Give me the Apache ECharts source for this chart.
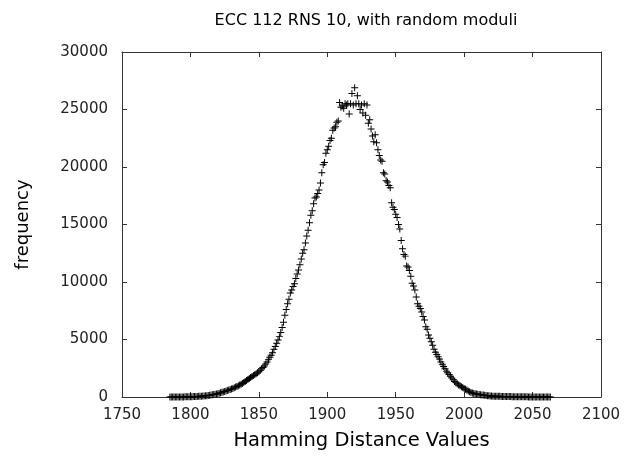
<!DOCTYPE html>
<html><head><meta charset="utf-8">
<script src="https://cdn.jsdelivr.net/npm/echarts@6/dist/echarts.min.js"></script>
<style>html,body{margin:0;padding:0;background:#fff}#c{width:634px;height:456px}</style>
</head><body><div id="c"></div>
<script>
var titleText = 'ECC 112 RNS 10, with random moduli';
var xName = 'Hamming Distance Values';
var yName = 'frequency';
var xTicks = [1750, 1800, 1850, 1900, 1950, 2000, 2050, 2100];
var yTicks = [0, 5000, 10000, 15000, 20000, 25000, 30000];

var hamming = [
1785,1786,1787,1788,1789,1790,1791,1792,1793,1794,
1795,1796,1797,1798,1799,1800,1801,1802,1803,1804,
1805,1806,1807,1808,1809,1810,1811,1812,1813,1814,
1815,1816,1817,1818,1819,1820,1821,1822,1823,1824,
1825,1826,1827,1828,1829,1830,1831,1832,1833,1834,
1835,1836,1837,1838,1839,1840,1841,1842,1843,1844,
1845,1846,1847,1848,1849,1850,1851,1852,1853,1854,
1855,1856,1857,1858,1859,1860,1861,1862,1863,1864,
1865,1866,1867,1868,1869,1870,1871,1872,1873,1874,
1875,1876,1877,1878,1879,1880,1881,1882,1883,1884,
1885,1886,1887,1888,1889,1890,1891,1892,1893,1894,
1895,1896,1897,1898,1899,1900,1901,1902,1903,1904,
1905,1906,1907,1908,1909,1910,1911,1912,1913,1914,
1915,1916,1917,1918,1919,1920,1921,1922,1923,1924,
1925,1926,1927,1928,1929,1930,1931,1932,1933,1934,
1935,1936,1937,1938,1939,1940,1941,1942,1943,1944,
1945,1946,1947,1948,1949,1950,1951,1952,1953,1954,
1955,1956,1957,1958,1959,1960,1961,1962,1963,1964,
1965,1966,1967,1968,1969,1970,1971,1972,1973,1974,
1975,1976,1977,1978,1979,1980,1981,1982,1983,1984,
1985,1986,1987,1988,1989,1990,1991,1992,1993,1994,
1995,1996,1997,1998,1999,2000,2001,2002,2003,2004,
2005,2006,2007,2008,2009,2010,2011,2012,2013,2014,
2015,2016,2017,2018,2019,2020,2021,2022,2023,2024,
2025,2026,2027,2028,2029,2030,2031,2032,2033,2034,
2035,2036,2037,2038,2039,2040,2041,2042,2043,2044,
2045,2046,2047,2048,2049,2050,2051,2052,2053,2054,
2055,2056,2057,2058,2059,2060,2061,2062,2063
];
var frequency = [
0,1,1,2,2,3,4,5,7,9,
10,12,14,17,20,24,28,33,38,44,
50,57,65,73,81,90,102,115,130,148,
170,190,212,235,260,288,325,370,405,445,
480,520,565,610,655,700,750,800,860,920,
980,1040,1110,1180,1260,1350,1430,1520,1610,1700,
1780,1860,1940,2020,2110,2200,2330,2450,2570,2700,
2870,3050,3250,3450,3640,3850,4150,4400,4680,4950,
5250,5600,6050,6500,7100,7600,8100,8500,9050,9300,
9600,9850,10300,10700,11050,11500,12000,12500,12800,13400,
14000,14500,15150,15800,16200,16800,17300,17400,17700,18000,
18600,19500,20200,20400,21200,21500,21800,22300,22500,23200,
23400,23500,23900,24000,25600,25200,25300,25100,25500,25400,
25500,24600,25500,26400,25400,26900,25500,26200,25500,25000,
25400,24700,25500,24500,25400,23800,24100,23300,22700,22200,
22800,22100,21500,21000,20600,20500,19500,19400,18800,18700,
18400,18200,16900,16500,16300,15900,15600,15000,14600,13600,
12900,12400,12250,11400,11300,11000,10500,9900,9650,9300,
8700,8100,7900,7700,7400,7000,6700,6100,5900,5400,
5100,4800,4500,4150,3900,3700,3500,3300,3050,2850,
2650,2450,2250,2100,1950,1800,1650,1500,1350,1250,
1150,1050,970,900,820,750,680,600,520,450,
400,350,310,280,255,240,220,200,180,165,
145,130,110,100,90,80,75,70,65,62,
60,56,52,49,47,45,42,39,36,33,
30,28,26,24,22,20,18,16,14,13,
12,11,10,9,8,8,7,6,5,5,
5,4,4,3,3,2,2,2,1
];

var points = hamming.map(function (h, i) { return [h, frequency[i]]; });
var FONT = 'DejaVu Sans';
var frameColor = '#333';
var plusPath = 'path://M4.3,0 H5.7 V4.3 H10 V5.7 H5.7 V10 H4.3 V5.7 H0 V4.3 H4.3 Z';

var chart = echarts.init(document.getElementById('c'), null, {renderer: 'canvas'});
function baseAxis(extra) {
  return Object.assign({
    axisLine: {show: true, onZero: false, lineStyle: {color: frameColor, width: 1}},
    axisTick: {show: true, inside: true, length: 5, lineStyle: {color: frameColor}},
    splitLine: {show: false}
  }, extra);
}
function plain(v) { return String(v); }
chart.setOption({
  animation: false,
  backgroundColor: '#fff',
  title: {
    text: titleText, left: 361, top: 8, textAlign: 'center',
    textStyle: {fontFamily: FONT, fontSize: 16, fontWeight: 'normal', color: '#000'}
  },
  grid: {left: 122, right: 33, top: 52, bottom: 58, containLabel: false},
  xAxis: [
    baseAxis({
      type: 'value', min: xTicks[0], max: xTicks[xTicks.length - 1], interval: 50, position: 'bottom',
      name: xName, nameLocation: 'middle', nameGap: 34,
      nameTextStyle: {fontFamily: FONT, fontSize: 19.5, color: '#000'},
      axisLabel: {fontFamily: FONT, fontSize: 15, color: '#222', margin: 11, formatter: plain}
    }),
    baseAxis({
      type: 'value', min: xTicks[0], max: xTicks[xTicks.length - 1], interval: 50, position: 'top',
      axisLabel: {show: false}
    })
  ],
  yAxis: [
    baseAxis({
      type: 'value', min: yTicks[0], max: yTicks[yTicks.length - 1], interval: 5000, position: 'left',
      name: yName, nameLocation: 'middle', nameGap: 90, nameRotate: 90,
      nameTextStyle: {fontFamily: FONT, fontSize: 18, color: '#000'},
      axisLabel: {fontFamily: FONT, fontSize: 15, color: '#222', margin: 14, formatter: plain}
    }),
    baseAxis({
      type: 'value', min: yTicks[0], max: yTicks[yTicks.length - 1], interval: 5000, position: 'right',
      axisLabel: {show: false}
    })
  ],
  series: [{
    type: 'scatter',
    data: points,
    symbol: plusPath,
    symbolSize: 7,
    itemStyle: {color: '#000', opacity: 1},
    emphasis: {disabled: true},
    silent: true
  }]
});
</script>
</body></html>
